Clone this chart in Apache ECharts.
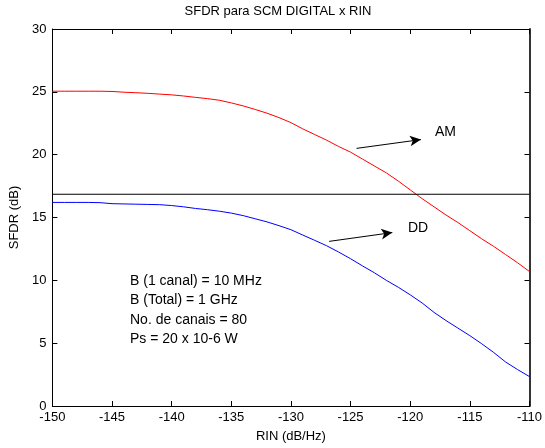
<!DOCTYPE html>
<html>
<head>
<meta charset="utf-8">
<script src="https://cdn.jsdelivr.net/npm/echarts@6/dist/echarts.min.js"></script>
<style>
  html, body { margin: 0; padding: 0; background: #fff; }
  #chart { width: 545px; height: 448px; }
</style>
</head>
<body>
<div id="chart"></div>
<script>
// RIN (dB/Hz)
var rin = [-150, -149, -148, -147, -146, -145, -144, -143, -142, -141,
           -140, -139, -138, -137, -136, -135, -134, -133, -132, -131,
           -130, -129, -128, -127, -126, -125, -124, -123, -122, -121,
           -120, -119, -118, -117, -116, -115, -114, -113, -112, -111, -110];
// SFDR AM (dB)
var sfdrAM = [25.05, 25.05, 25.05, 25.05, 25.05, 25.03, 24.97, 24.93, 24.88, 24.82,
              24.76, 24.67, 24.56, 24.46, 24.33, 24.12, 23.88, 23.6, 23.3, 22.95,
              22.55, 22.05, 21.6, 21.15, 20.65, 20.2, 19.65, 19.1, 18.55, 17.9,
              17.2, 16.5, 15.85, 15.2, 14.6, 13.95, 13.3, 12.7, 12.05, 11.4, 10.7];
// SFDR DD (dB)
var sfdrDD = [16.2, 16.2, 16.2, 16.2, 16.18, 16.1, 16.08, 16.06, 16.04, 16.02,
              15.95, 15.85, 15.72, 15.62, 15.5, 15.35, 15.15, 14.9, 14.65, 14.35,
              14.03, 13.6, 13.18, 12.75, 12.25, 11.72, 11.15, 10.6, 10.0, 9.45,
              8.85, 8.2, 7.45, 6.8, 6.2, 5.6, 4.95, 4.26, 3.5, 2.9, 2.34];
var limite = 16.85;
var xTicks = [-150, -145, -140, -135, -130, -125, -120, -115, -110];
var yTicks = [0, 5, 10, 15, 20, 25, 30];
// setas: [cauda, ponta]
var setaAM = [[-124.5, 20.5], [-119.1, 21.2]];
var setaDD = [[-126.8, 13.1], [-121.5, 13.8]];
var notas = ['B (1 canal) = 10 MHz', 'B (Total) = 1 GHz', 'No. de canais = 80', 'Ps = 20 x 10-6 W'];

var fonte = '"Liberation Sans", Arial, sans-serif';
var chart = echarts.init(document.getElementById('chart'));

function pares(xs, ys) {
    return xs.map(function (x, i) { return [x, ys[i]]; });
}

function texto(t, x, y, tam, alinh) {
    return {
        type: 'text', x: x, y: y, silent: true,
        style: {
            text: t, fill: '#000', font: tam + 'px ' + fonte,
            align: alinh || 'left', verticalAlign: 'middle'
        }
    };
}

var eixoX = {
    type: 'value',
    min: xTicks[0],
    max: xTicks[xTicks.length - 1],
    interval: 5,
    axisLine: { show: true, onZero: false, lineStyle: { color: '#000', width: 1 } },
    axisTick: { show: true, inside: true, length: 5, lineStyle: { color: '#000' } },
    splitLine: { show: false },
    axisLabel: { color: '#000', fontSize: 13, fontFamily: fonte, margin: 5 }
};
var eixoY = {
    type: 'value',
    min: yTicks[0],
    max: yTicks[yTicks.length - 1],
    interval: 5,
    axisLine: { show: true, onZero: false, lineStyle: { color: '#000', width: 1 } },
    axisTick: { show: true, inside: true, length: 5, lineStyle: { color: '#000' } },
    splitLine: { show: false },
    axisLabel: { color: '#000', fontSize: 13, fontFamily: fonte, margin: 6 }
};

var option = {
    animation: false,
    backgroundColor: '#fff',
    grid: { left: 49, right: 12, top: 29, bottom: 39, containLabel: false },
    xAxis: [
        Object.assign({}, eixoX, {
            position: 'bottom',
            name: 'RIN (dB/Hz)',
            nameLocation: 'middle',
            nameGap: 24,
            nameTextStyle: { color: '#000', fontSize: 13, fontFamily: fonte }
        }),
        Object.assign({}, eixoX, {
            position: 'top',
            axisLabel: { show: false }
        })
    ],
    yAxis: [
        Object.assign({}, eixoY, {
            position: 'left',
            name: 'SFDR (dB)',
            nameLocation: 'middle',
            nameGap: 27,
            nameTextStyle: { color: '#000', fontSize: 13, fontFamily: fonte }
        }),
        Object.assign({}, eixoY, {
            position: 'right',
            axisLine: { show: true, onZero: false, lineStyle: { color: '#333', width: 2 } },
            axisLabel: { show: false }
        })
    ],
    graphic: [
        texto('SFDR para SCM DIGITAL x RIN', 278, 11, 13, 'center'),
        texto('AM', 435, 132, 14),
        texto('DD', 408, 228, 14)
    ].concat(notas.map(function (t, i) {
        return texto(t, 130, 281 + i * 19.5, 14);
    })),
    series: [
        {
            name: 'AM',
            type: 'line',
            data: pares(rin, sfdrAM),
            showSymbol: false,
            lineStyle: { color: '#ff0000', width: 1 },
            itemStyle: { color: '#ff0000' }
        },
        {
            name: 'DD',
            type: 'line',
            data: pares(rin, sfdrDD),
            showSymbol: false,
            lineStyle: { color: '#0000ff', width: 1 },
            itemStyle: { color: '#0000ff' }
        },
        {
            name: 'limite',
            type: 'line',
            data: [[xTicks[0], limite], [xTicks[xTicks.length - 1], limite]],
            showSymbol: false,
            lineStyle: { color: '#000', width: 1 },
            markLine: {
                silent: true,
                symbol: ['none', 'arrow'],
                symbolSize: [8, 11],
                label: { show: false },
                lineStyle: { color: '#000', width: 1, type: 'solid' },
                itemStyle: { color: '#000' },
                data: [
                    [{ coord: setaAM[0] }, { coord: setaAM[1] }],
                    [{ coord: setaDD[0] }, { coord: setaDD[1] }]
                ]
            }
        }
    ]
};
chart.setOption(option);
</script>
</body>
</html>
